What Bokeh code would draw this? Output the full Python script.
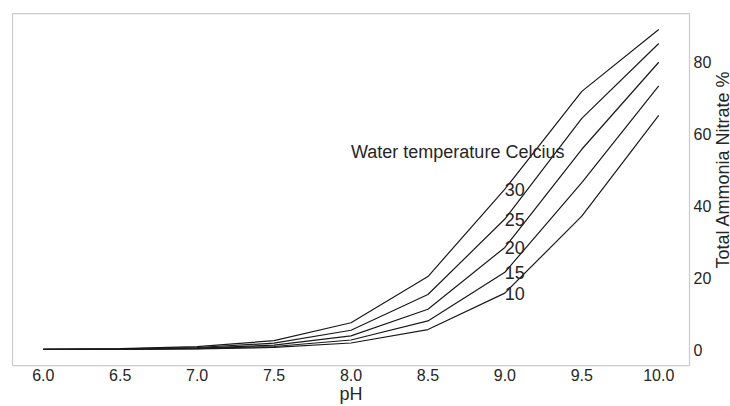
import math
from bokeh.plotting import figure
from bokeh.models import Range1d, LinearAxis, FixedTicker
from bokeh.layouts import row
from bokeh.core.properties import value
from bokeh.embed import file_html
from bokeh.resources import INLINE

ph = [6.0, 6.5, 7.0, 7.5, 8.0, 8.5, 9.0, 9.5, 10.0]
temps = ["10", "15", "20", "25", "30"]
t10 = [0.02, 0.06, 0.19, 0.59, 1.83, 5.56, 15.7, 37.1, 65.1]
t15 = [0.03, 0.09, 0.27, 0.86, 2.66, 7.97, 21.5, 46.4, 73.3]
t20 = [0.04, 0.12, 0.40, 1.24, 3.82, 11.2, 28.4, 55.7, 79.9]
t25 = [0.06, 0.18, 0.57, 1.77, 5.38, 15.3, 36.3, 64.3, 85.1]
t30 = [0.08, 0.25, 0.80, 2.48, 7.46, 20.3, 44.6, 71.8, 89.0]
series = [t10, t15, t20, t25, t30]
x_ticks = [6.0, 6.5, 7.0, 7.5, 8.0, 8.5, 9.0, 9.5, 10.0]
y_ticks = [0, 20, 40, 60, 80]
legend_title = "Water temperature Celcius"
x_title = "pH"
y_title = "Total Ammonia Nitrate %"
title_pos = (8.0, 55)
label_x = 9.0

FONT = "Liberation Sans"
TXT = "#262626"

W, H = 730, 406
SIDE_W = 16
ML, MR, MT, MB = 12, 21, 13, 40
X0, X1 = 5.8, 10.2
Y0, Y1 = -4.43, 93.45

p = figure(width=W - SIDE_W, height=H, output_backend="svg", toolbar_location=None,
           x_range=Range1d(X0, X1), y_range=Range1d(Y0, Y1),
           y_axis_location=None, min_border_left=ML, min_border_right=MR,
           min_border_top=MT, min_border_bottom=MB)
p.background_fill_color = "white"
p.border_fill_color = "white"
p.outline_line_color = "#cccccc"
p.outline_line_width = 1.25
p.xgrid.visible = False
p.ygrid.visible = False

for ys in series:
    p.line(ph, ys, line_color="#1a1a1a", line_width=1.2)


def bare(ax):
    ax.axis_line_color = None
    ax.major_tick_line_color = None
    ax.minor_tick_line_color = None
    ax.major_tick_out = 0
    ax.major_tick_in = 0
    ax.minor_tick_out = 0
    ax.minor_tick_in = 0
    ax.major_label_text_font = FONT
    ax.major_label_text_font_size = "16px"
    ax.major_label_text_color = TXT
    ax.axis_label_text_font = FONT
    ax.axis_label_text_font_size = "18px"
    ax.axis_label_text_font_style = "normal"
    ax.axis_label_text_color = TXT


# x axis
xa = p.xaxis[0]
bare(xa)
xa.ticker = FixedTicker(ticks=x_ticks)
xa.major_label_standoff = 3
xa.major_label_overrides = {t: f"{t:.1f}" for t in x_ticks}
xa.axis_label = x_title
xa.axis_label_standoff = 0

# right y axis: tick labels
ya = LinearAxis(ticker=FixedTicker(ticks=y_ticks))
bare(ya)
ya.major_label_standoff = 4
p.add_layout(ya, "right")

p.text(x=[title_pos[0]], y=[title_pos[1]], text=[legend_title],
       text_font=value(FONT), text_font_size="18px", text_color=TXT,
       text_align="left", text_baseline="alphabetic")

lab_y = [s[ph.index(label_x)] for s in series]
p.text(x=[label_x] * len(temps), y=lab_y, text=temps,
       text_font=value(FONT), text_font_size="18px", text_color=TXT,
       text_align="left", text_baseline="alphabetic")

# narrow side panel holding the y-axis title, reading bottom-to-top
side = figure(width=SIDE_W, height=H, output_backend="svg", toolbar_location=None,
              x_range=Range1d(0, SIDE_W), y_range=Range1d(0, H),
              min_border=0, min_border_left=0, min_border_right=0,
              min_border_top=0, min_border_bottom=0)
side.axis.visible = False
side.xgrid.visible = False
side.ygrid.visible = False
side.outline_line_color = None
side.background_fill_color = "white"
side.border_fill_color = "white"
side.text(x=[SIDE_W / 2], y=[H - 180], text=[y_title], angle=math.pi / 2,
          text_font=value(FONT), text_font_size="18px", text_color=TXT,
          text_align="center", text_baseline="middle")

layout = row(p, side, spacing=0)
open("out.html", "w").write(file_html(layout, INLINE))
